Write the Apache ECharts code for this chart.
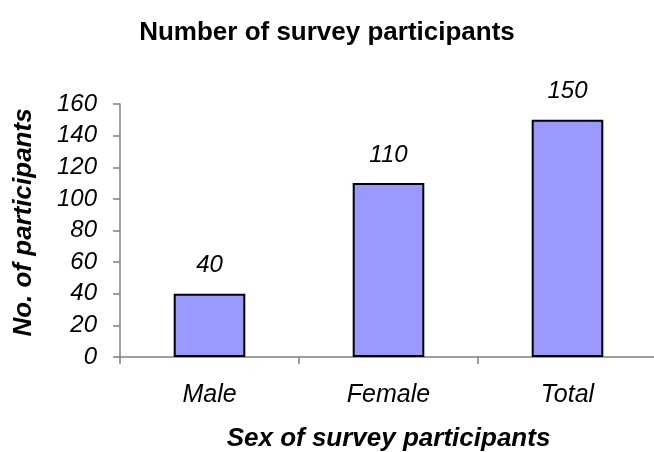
<!DOCTYPE html>
<html>
<head>
<meta charset="utf-8">
<script src="https://cdn.jsdelivr.net/npm/echarts@6/dist/echarts.min.js"></script>
<style>
  html, body { margin: 0; padding: 0; background: #ffffff; }
  #chart { width: 654px; height: 452px; }
</style>
</head>
<body>
<div id="chart"></div>
<script>
// Survey participants by sex
const categories = ['Male', 'Female', 'Total'];
const participants = [40, 110, 150];
const yTicks = { min: 0, max: 160, step: 20 };

const FONT = '"Liberation Sans", Arial, sans-serif';
const AXIS_GREY = '#808080';

const chart = echarts.init(document.getElementById('chart'), null, { renderer: 'canvas' });

chart.setOption({
  backgroundColor: '#ffffff',
  animation: false,
  title: {
    text: 'Number of survey participants',
    left: 'center',
    top: 15,
    textStyle: { fontFamily: FONT, fontSize: 26, fontWeight: 'bold', color: '#000' }
  },
  // fixed plot rectangle; the last category runs past the right edge
  grid: { left: 120, right: -3, top: 104, bottom: 95, containLabel: false, outerBoundsMode: 'none' },
  xAxis: {
    type: 'category',
    data: categories,
    boundaryGap: true,
    axisLine: { lineStyle: { color: AXIS_GREY, width: 1.5 } },
    axisTick: { show: true, alignWithLabel: false, length: 7, lineStyle: { color: AXIS_GREY, width: 1.5 } },
    axisLabel: { margin: 26, fontFamily: FONT, fontSize: 25, fontStyle: 'italic', color: '#000' },
    name: 'Sex of survey participants',
    nameLocation: 'middle',
    nameGap: 69,
    nameTextStyle: { fontFamily: FONT, fontSize: 26, fontWeight: 'bold', fontStyle: 'italic', color: '#000' }
  },
  yAxis: {
    type: 'value',
    min: yTicks.min,
    max: yTicks.max,
    interval: yTicks.step,
    splitLine: { show: false },
    axisLine: { show: true, lineStyle: { color: AXIS_GREY, width: 1.5 } },
    axisTick: { show: true, length: 7, lineStyle: { color: AXIS_GREY, width: 1.5 } },
    axisLabel: { margin: 23, fontFamily: FONT, fontSize: 24, fontStyle: 'italic', color: '#000' },
    name: 'No. of participants',
    nameLocation: 'middle',
    nameGap: 83,
    nameRotate: 90,
    nameTextStyle: { fontFamily: FONT, fontSize: 26, fontWeight: 'bold', fontStyle: 'italic', color: '#000', padding: [0, 0, 0, 16] }
  },
  series: [{
    type: 'bar',
    data: participants,
    barWidth: '40%',
    itemStyle: { color: '#9999FF', borderColor: '#000', borderWidth: 2 },
    label: {
      show: true,
      position: 'top',
      distance: 16,
      fontFamily: FONT,
      fontSize: 24,
      fontStyle: 'italic',
      color: '#000'
    }
  }]
});
</script>
</body>
</html>
